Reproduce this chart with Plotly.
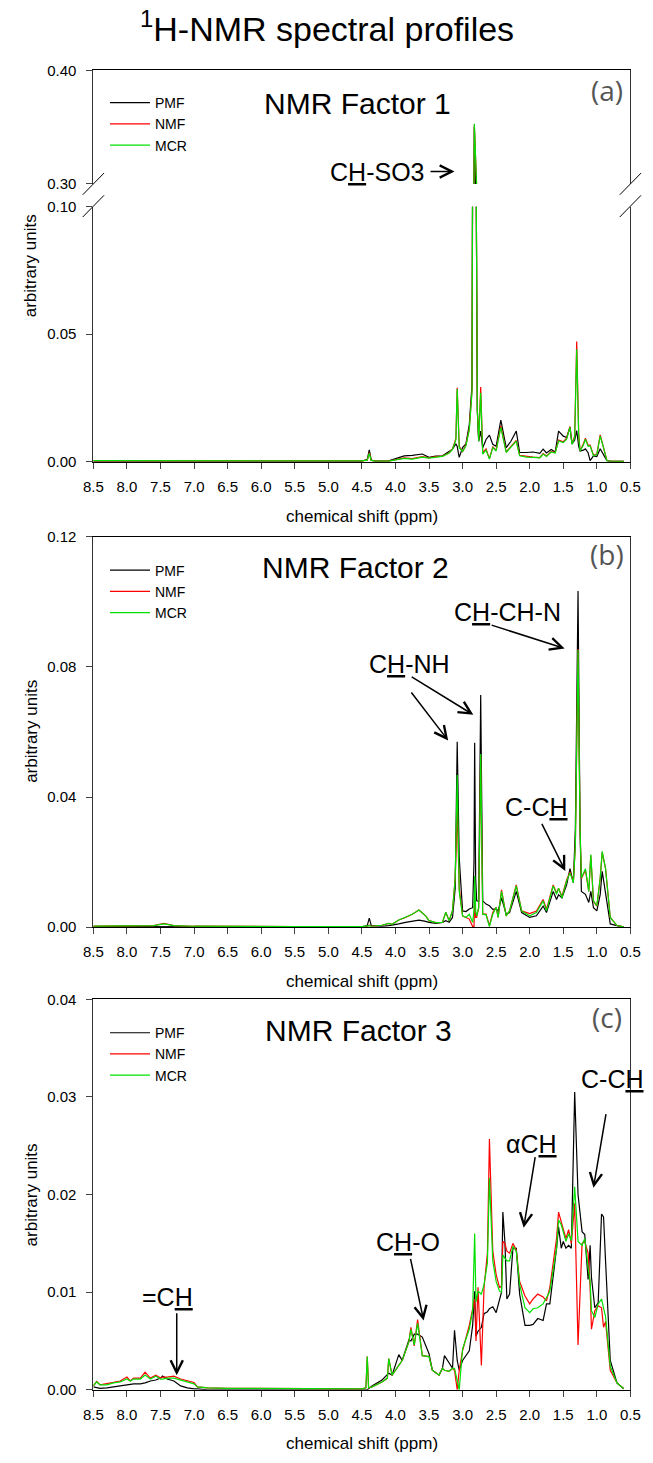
import plotly.graph_objects as go

W, H = 653, 1463

# ---------------- data ----------------
SERIES = ["PMF", "NMF", "MCR"]
COLORS = ["#000000", "#ff0000", "#00e000"]

XTICKS = [8.5, 8.0, 7.5, 7.0, 6.5, 6.0, 5.5, 5.0, 4.5, 4.0, 3.5, 3.0, 2.5, 2.0, 1.5, 1.0, 0.5]

# Factor 1
ppm_a = [8.5, 8.0, 7.5, 7.0, 6.5, 6.0, 5.5, 5.0, 4.5, 4.42, 4.39, 4.36, 4.3, 4.1, 4.0, 3.87, 3.75, 3.6,
         3.5, 3.4, 3.3, 3.2, 3.15, 3.1, 3.08, 3.05, 3.0, 2.95, 2.9, 2.86, 2.845, 2.825, 2.805, 2.78,
         2.76, 2.73, 2.7, 2.65, 2.6, 2.55, 2.5, 2.43, 2.35, 2.28, 2.2, 2.15, 2.05, 1.95, 1.85, 1.8,
         1.75, 1.68, 1.62, 1.57, 1.5, 1.45, 1.4, 1.37, 1.33, 1.3, 1.27, 1.25, 1.2, 1.17, 1.13, 1.1,
         1.05, 1.0, 0.95, 0.9, 0.85, 0.8, 0.7, 0.6]
pmf_a = [0.0002, 0.0002, 0.0002, 0.0002, 0.0002, 0.0002, 0.0002, 0.0002, 0.0002, 0.0008, 0.0046, 0.0006,
         0.0002, 0.0003, 0.0012, 0.0023, 0.0025, 0.0030, 0.0017, 0.0022, 0.0023, 0.0040, 0.0049, 0.0070,
         0.0060, 0.0017, 0.0055, 0.0070, 0.0145, 0.0300, 0.1500, 0.3500, 0.1500, 0.0200, 0.0080, 0.0120,
         0.0055, 0.0087, 0.0104, 0.0068, 0.0060, 0.0163, 0.0055, 0.0080, 0.0120, 0.0036, 0.0036, 0.0038,
         0.0033, 0.0049, 0.0034, 0.0048, 0.0038, 0.0120, 0.0100, 0.0095, 0.0135, 0.0070, 0.0085, 0.0122,
         0.0060, 0.0042, 0.0045, 0.0050, 0.0035, 0.0004, 0.0023, 0.0020, 0.0051, 0.0030, 0.0004, 0.0002,
         0.0001, 0.0001]
nmf_a = [0.0003, 0.0003, 0.0003, 0.0003, 0.0003, 0.0003, 0.0003, 0.0003, 0.0003, 0.0006, 0.0035, 0.0005,
         0.0002, 0.0002, 0.0008, 0.0015, 0.0012, 0.0020, 0.0015, 0.0020, 0.0022, 0.0035, 0.0050, 0.0090,
         0.0290, 0.0060, 0.0040, 0.0065, 0.0130, 0.0280, 0.1500, 0.3520, 0.1500, 0.0200, 0.0085, 0.0293,
         0.0035, 0.0050, 0.0012, 0.0058, 0.0045, 0.0140, 0.0038, 0.0060, 0.0083, 0.0025, 0.0020, 0.0018,
         0.0016, 0.0032, 0.0022, 0.0040, 0.0036, 0.0085, 0.0078, 0.0092, 0.0138, 0.0072, 0.0100, 0.0471,
         0.0110, 0.0042, 0.0070, 0.0092, 0.0065, 0.0065, 0.0025, 0.0030, 0.0105, 0.0060, 0.0005, 0.0002,
         0.0001, 0.0001]
mcr_a = [0.0004, 0.0004, 0.0004, 0.0004, 0.0003, 0.0003, 0.0003, 0.0003, 0.0003, 0.0006, 0.0032, 0.0005,
         0.0002, 0.0002, 0.0007, 0.0013, 0.0010, 0.0018, 0.0014, 0.0019, 0.0021, 0.0034, 0.0048, 0.0085,
         0.0285, 0.0055, 0.0040, 0.0062, 0.0125, 0.0270, 0.1500, 0.3530, 0.1500, 0.0200, 0.0080, 0.0270,
         0.0030, 0.0045, 0.0010, 0.0055, 0.0042, 0.0135, 0.0036, 0.0058, 0.0081, 0.0023, 0.0018, 0.0017,
         0.0015, 0.0030, 0.0020, 0.0038, 0.0034, 0.0081, 0.0075, 0.0088, 0.0135, 0.0068, 0.0095, 0.0441,
         0.0100, 0.0042, 0.0065, 0.0088, 0.0060, 0.0062, 0.0023, 0.0028, 0.0100, 0.0055, 0.0004, 0.0002,
         0.0001, 0.0001]

# Factor 2
ppm_b = [8.5, 8.0, 7.6, 7.45, 7.3, 7.0, 6.5, 5.5, 4.5, 4.42, 4.39, 4.36, 4.2, 4.1, 4.05, 3.95, 3.85, 3.75,
         3.65, 3.55, 3.5, 3.4, 3.3, 3.25, 3.2, 3.15, 3.11, 3.08, 3.05, 3.0, 2.95, 2.9, 2.85, 2.83, 2.82,
         2.805, 2.79, 2.76, 2.73, 2.7, 2.65, 2.6, 2.55, 2.5, 2.47, 2.42, 2.35, 2.3, 2.2, 2.12, 2.0, 1.9,
         1.8, 1.75, 1.65, 1.6, 1.57, 1.52, 1.45, 1.4, 1.35, 1.32, 1.28, 1.25, 1.23, 1.17, 1.12, 1.09,
         1.05, 1.0, 0.95, 0.92, 0.87, 0.8, 0.7, 0.6]
pmf_b = [0.0002, 0.0002, 0.0002, 0.0003, 0.0002, 0.0002, 0.0001, 0.0001, 0.0001, 0.0005, 0.0028, 0.0005,
         0.0003, 0.0005, 0.0006, 0.0010, 0.0015, 0.0018, 0.0022, 0.0018, 0.0015, 0.0012, 0.0015, 0.0020,
         0.0015, 0.0030, 0.0120, 0.0570, 0.0213, 0.0050, 0.0048, 0.0056, 0.0060, 0.0200, 0.0567, 0.0150,
         0.0081, 0.0080, 0.0714, 0.0081, 0.0071, 0.0066, 0.0055, 0.0056, 0.0050, 0.0090, 0.0040, 0.0045,
         0.0110, 0.0045, 0.0030, 0.0035, 0.0065, 0.0045, 0.0110, 0.0085, 0.0100, 0.0090, 0.0130, 0.0180,
         0.0137, 0.0300, 0.1033, 0.0300, 0.0110, 0.0101, 0.0076, 0.0110, 0.0060, 0.0050, 0.0100, 0.0172,
         0.0100, 0.0010, 0.0005, 0.0001]
nmf_b = [0.0003, 0.0004, 0.0005, 0.0012, 0.0005, 0.0003, 0.0002, 0.0002, 0.0002, 0.0003, 0.0006, 0.0003,
         0.0006, 0.0012, 0.0009, 0.0022, 0.0030, 0.0040, 0.0053, 0.0035, 0.0020, 0.0014, 0.0015, 0.0046,
         0.0020, 0.0051, 0.0150, 0.0360, 0.0120, 0.0035, 0.0030, 0.0025, 0.0002, 0.0002, 0.0080, 0.0030,
         0.0030, 0.0060, 0.0530, 0.0040, 0.0040, 0.0005, 0.0045, 0.0061, 0.0030, 0.0115, 0.0035, 0.0050,
         0.0130, 0.0050, 0.0042, 0.0050, 0.0085, 0.0055, 0.0130, 0.0105, 0.0120, 0.0095, 0.0145, 0.0170,
         0.0140, 0.0250, 0.0855, 0.0300, 0.0150, 0.0175, 0.0110, 0.0220, 0.0080, 0.0065, 0.0150, 0.0230,
         0.0180, 0.0030, 0.0005, 0.0001]
mcr_b = [0.0003, 0.0004, 0.0005, 0.0010, 0.0005, 0.0003, 0.0002, 0.0002, 0.0002, 0.0003, 0.0005, 0.0003,
         0.0006, 0.0012, 0.0009, 0.0022, 0.0030, 0.0040, 0.0053, 0.0035, 0.0020, 0.0014, 0.0015, 0.0046,
         0.0020, 0.0051, 0.0150, 0.0468, 0.0110, 0.0035, 0.0030, 0.0040, 0.0015, 0.0050, 0.0157, 0.0050,
         0.0035, 0.0060, 0.0532, 0.0040, 0.0038, 0.0002, 0.0040, 0.0061, 0.0030, 0.0110, 0.0035, 0.0050,
         0.0127, 0.0050, 0.0035, 0.0045, 0.0081, 0.0050, 0.0127, 0.0101, 0.0120, 0.0090, 0.0142, 0.0167,
         0.0137, 0.0250, 0.0853, 0.0300, 0.0152, 0.0180, 0.0110, 0.0223, 0.0081, 0.0066, 0.0150, 0.0233,
         0.0180, 0.0030, 0.0005, 0.0001]

# Factor 3
ppm_c = [8.5, 8.45, 8.4, 8.3, 8.2, 8.1, 8.0, 7.95, 7.9, 7.8, 7.73, 7.65, 7.57, 7.5, 7.47, 7.4, 7.3, 7.2,
         7.1, 7.0, 6.95, 6.8, 6.5, 6.0, 5.0, 4.5, 4.44, 4.42, 4.40, 4.35, 4.2, 4.12, 4.1, 4.05, 3.95, 3.9,
         3.8, 3.77, 3.72, 3.67, 3.6, 3.5, 3.45, 3.35, 3.3, 3.27, 3.2, 3.15, 3.12, 3.08, 3.05, 3.0, 2.9,
         2.85, 2.82, 2.8, 2.77, 2.72, 2.68, 2.63, 2.6, 2.55, 2.5, 2.45, 2.42, 2.4, 2.37, 2.34, 2.3, 2.25,
         2.2, 2.15, 2.07, 2.0, 1.95, 1.88, 1.8, 1.75, 1.7, 1.6, 1.57, 1.53, 1.5, 1.46, 1.42, 1.38, 1.33,
         1.28, 1.22, 1.18, 1.13, 1.1, 1.08, 1.03, 0.98, 0.93, 0.9, 0.87, 0.8, 0.7, 0.6]
pmf_c = [0.0003, 0.0002, 0.00014, 0.0002, 0.0003, 0.0004, 0.00047, 0.0005, 0.0006, 0.0006, 0.0007, 0.0009,
         0.0010, 0.0012, 0.0014, 0.0011, 0.0009, 0.0004, 0.0002, 0.0001, 0.0001, 0.0, 0.0, 0.0, 0.0, 0.0,
         0.0, 0.0, 0.0001, 0.0004, 0.0010, 0.0015, 0.0017, 0.0015, 0.0036, 0.0030, 0.0051, 0.0050, 0.0057,
         0.0057, 0.0054, 0.0037, 0.0020, 0.0015, 0.0022, 0.0035, 0.0027, 0.0022, 0.0061, 0.0030, 0.0020,
         0.0030, 0.0040, 0.0066, 0.0101, 0.0055, 0.0060, 0.0064, 0.0078, 0.0080, 0.0083, 0.0085, 0.0079,
         0.0094, 0.0100, 0.0182, 0.0152, 0.0093, 0.0098, 0.0145, 0.0145, 0.0098, 0.0066, 0.0066, 0.0067,
         0.0073, 0.0071, 0.0088, 0.0088, 0.0145, 0.0167, 0.0145, 0.0152, 0.0145, 0.0148, 0.0145, 0.0305,
         0.0200, 0.0162, 0.0159, 0.0113, 0.0148, 0.0115, 0.0084, 0.0089, 0.0180, 0.0177, 0.0132, 0.0030,
         0.0007, 0.0001]
nmf_c = [0.0004, 0.00085, 0.0005, 0.0006, 0.00075, 0.0009, 0.0013, 0.0009, 0.0012, 0.0012, 0.0018, 0.0012,
         0.0015, 0.0012, 0.0013, 0.0013, 0.0014, 0.0011, 0.0009, 0.00075, 0.0003, 0.0002, 0.00015, 0.00015,
         0.00015, 0.0001, 0.0002, 0.0034, 0.0002, 0.0003, 0.0008, 0.0012, 0.0032, 0.0015, 0.0025, 0.0030,
         0.0049, 0.0064, 0.0045, 0.0072, 0.0035, 0.0034, 0.0020, 0.0015, 0.0022, 0.0020, 0.0019, 0.0022,
         0.0020, 0.0000, 0.0020, 0.0040, 0.0066, 0.0081, 0.0093, 0.0050, 0.0105, 0.0025, 0.0105, 0.0140,
         0.0257, 0.0142, 0.0118, 0.0105, 0.0106, 0.0152, 0.0150, 0.0142, 0.0140, 0.0150, 0.0143, 0.0111,
         0.0096, 0.0088, 0.0093, 0.0098, 0.0095, 0.0091, 0.0105, 0.0155, 0.0182, 0.0172, 0.0164, 0.0155,
         0.0164, 0.0150, 0.0191, 0.0046, 0.0150, 0.0152, 0.0140, 0.0105, 0.0062, 0.0081, 0.0086, 0.0084,
         0.0064, 0.0070, 0.0020, 0.0007, 0.0001]
mcr_c = [0.0004, 0.0008, 0.0005, 0.0005, 0.0007, 0.0008, 0.0011, 0.0009, 0.0011, 0.0011, 0.0015, 0.0011,
         0.0014, 0.0011, 0.0011, 0.0012, 0.0012, 0.0010, 0.0008, 0.0006, 0.0003, 0.0002, 0.00015, 0.00015,
         0.00015, 0.0001, 0.0002, 0.0034, 0.0002, 0.0003, 0.0008, 0.0012, 0.0032, 0.0015, 0.0025, 0.0030,
         0.0049, 0.0062, 0.0046, 0.0068, 0.0035, 0.0034, 0.0020, 0.0015, 0.0022, 0.0020, 0.0019, 0.0022,
         0.0022, 0.0010, 0.0000, 0.0042, 0.0062, 0.0081, 0.0160, 0.0090, 0.0101, 0.0098, 0.0108, 0.0130,
         0.0217, 0.0132, 0.0111, 0.0101, 0.0100, 0.0138, 0.0135, 0.0132, 0.0132, 0.0147, 0.0142, 0.0108,
         0.0084, 0.0079, 0.0083, 0.0084, 0.0088, 0.0094, 0.0101, 0.0145, 0.0174, 0.0169, 0.0162, 0.0152,
         0.0160, 0.0153, 0.0208, 0.0152, 0.0148, 0.0155, 0.0125, 0.0111, 0.0081, 0.0074, 0.0088, 0.0093,
         0.0084, 0.0075, 0.0024, 0.0007, 0.0001]

# ---------------- layout helpers ----------------
FONT = "Liberation Sans, Arial, sans-serif"


def px(x):
    return x / W


def py(y):
    return 1 - y / H


XDOM = [px(86), px(640)]
panels = {
    "a_lo": [py(458), py(200)],
    "a_hi": [py(177), py(62)],
    "b": [py(929), py(534)],
    "c": [py(1397), py(1002)],
}

fig = go.Figure()

def add_series(ppm, vals, xa, ya, legend, showlegend):
    for name, v, col in zip(SERIES, vals, COLORS):
        fig.add_trace(go.Scatter(
            x=ppm, y=v, mode="lines", name=name, xaxis=xa, yaxis=ya,
            line=dict(color=col, width=1.2), legend=legend, showlegend=showlegend,
            hoverinfo="skip"))

add_series(ppm_a, [pmf_a, nmf_a, mcr_a], "x", "y", "legend", True)
add_series(ppm_a, [pmf_a, nmf_a, mcr_a], "x4", "y4", "legend", False)
add_series(ppm_b, [pmf_b, nmf_b, mcr_b], "x2", "y2", "legend2", True)
add_series(ppm_c, [pmf_c, nmf_c, mcr_c], "x3", "y3", "legend3", True)

tickfont = dict(family=FONT, size=15, color="black")

def xax(anchor, mirror=False, labels=True, side="bottom"):
    return dict(domain=XDOM, anchor=anchor, range=[8.5, 0.5], tickvals=XTICKS,
                tickformat=".1f", ticks="outside" if labels else "", ticklen=6,
                showticklabels=labels, showline=True, linecolor="black", linewidth=1,
                mirror=mirror, showgrid=False, zeroline=False, tickfont=tickfont, side=side,
                ticklabelstandoff=5)

def yax(anchor, dom, rng, tv):
    return dict(domain=dom, anchor=anchor, range=rng, tickvals=tv, tickformat=".2f",
                ticks="outside", ticklen=6, showline=True, linecolor="#333333", linewidth=1,
                mirror=True, showgrid=False, zeroline=False, tickfont=tickfont,
                ticklabelstandoff=7)

fig.update_layout(
    width=W, height=H, margin=dict(l=0, r=0, t=0, b=0),
    paper_bgcolor="white", plot_bgcolor="white",
    xaxis=xax("y"),
    xaxis4=xax("y4", labels=False, side="top"),
    xaxis2=xax("y2", mirror=True),
    xaxis3=xax("y3", mirror=True),
    yaxis=yax("x", panels["a_lo"], [0, 0.10], [0, 0.05, 0.10]),
    yaxis4=yax("x4", panels["a_hi"], [0.30, 0.40], [0.30, 0.40]),
    yaxis2=yax("x2", panels["b"], [0, 0.12], [0, 0.04, 0.08, 0.12]),
    yaxis3=yax("x3", panels["c"], [0, 0.04], [0, 0.01, 0.02, 0.03, 0.04]),
    showlegend=True,
)

legfont = dict(family=FONT, size=14, color="black")
for key, ytop in (("legend", 79), ("legend2", 552), ("legend3", 1020)):
    fig.update_layout({key: dict(x=px(98), y=py(ytop), xanchor="left", yanchor="top",
                                 bgcolor="rgba(0,0,0,0)", font=legfont, tracegroupgap=0,
                                 itemwidth=40)})

ann = []

def text(t, x, y, size, xref="paper", yref="paper", color="black", family=FONT, angle=0):
    ann.append(dict(text=t, x=x, y=y, xref=xref, yref=yref, showarrow=False,
                    font=dict(family=family, size=size, color=color), textangle=angle,
                    xanchor="center", yanchor="middle"))

def arrow(x0, y0, x1, y1, xr, yr):
    ann.append(dict(text="", x=x1, y=y1, ax=x0, ay=y0, xref=xr, yref=yr, axref=xr, ayref=yr,
                    showarrow=True, arrowhead=5, arrowsize=1.6, arrowwidth=1.5,
                    arrowcolor="black", standoff=0, startstandoff=0))

# title
text("<sup>1</sup>H-NMR spectral profiles", 0.5, py(18), 34)
# panel names
text("NMR Factor 1", px(358), py(96), 30)
text("NMR Factor 2", px(356), py(565), 30)
text("NMR Factor 3", px(360), py(1034), 30)
for lab, yy in (("(a)", 82), ("(b)", 551), ("(c)", 1020)):
    text(lab, px(616), py(yy), 28, color="#555555", family="Open Sans, sans-serif")
# axis titles
for yy in (513, 984, 1451):
    text("chemical shift (ppm)", px(363), py(yy), 17)
for yy in (260, 731, 1200):
    text("arbitrary units", px(22), py(yy), 17, angle=-90)

# peak labels + arrows
text("C<u>H</u>-SO3", 4.28, 0.3104, 25, "x4", "y4")
arrow(3.50, 0.311, 3.12, 0.311, "x4", "y4")

text("C<u>H</u>-NH", 3.79, 0.0808, 25, "x2", "y2")
arrow(3.78, 0.0726, 3.215, 0.0574, "x2", "y2")
arrow(3.78, 0.0772, 2.84, 0.0653, "x2", "y2")
text("C<u>H</u>-CH-N", 2.33, 0.0969, 25, "x2", "y2")
arrow(2.59, 0.093, 1.48, 0.0857, "x2", "y2")
text("C-C<u>H</u>", 1.90, 0.0368, 25, "x2", "y2")
arrow(1.83, 0.0322, 1.47, 0.0173, "x2", "y2")

text("=C<u>H</u>", 7.40, 0.0095, 25, "x3", "y3")
arrow(7.258, 0.0080, 7.258, 0.0015, "x3", "y3")
text("C<u>H</u>-O", 3.82, 0.0151, 25, "x3", "y3")
arrow(3.78, 0.01357, 3.58, 0.0071, "x3", "y3")
text("αC<u>H</u>", 1.97, 0.0252, 25, "x3", "y3")
arrow(1.915, 0.0240, 2.09, 0.0166, "x3", "y3")
text("C-C<u>H</u>", 0.76, 0.0318, 25, "x3", "y3")
arrow(0.86, 0.0284, 1.05, 0.0207, "x3", "y3")

fig.update_layout(annotations=ann)

# axis-break marks
shapes = []
for cx in (86, 640):
    for cy in (177, 199.5):
        shapes.append(dict(type="line", xref="paper", yref="paper",
                           x0=px(cx - 11), y0=py(cy + 11), x1=px(cx + 11), y1=py(cy - 11),
                           line=dict(color="black", width=1)))
fig.update_layout(shapes=shapes)

fig.write_html("out.html")
